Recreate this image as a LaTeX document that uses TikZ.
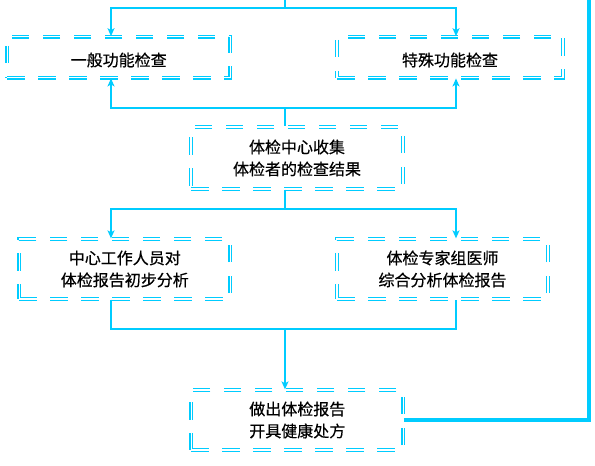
\documentclass[tikz,border=0pt]{standalone}
\usepackage{fontspec}
\newfontfamily\cjk[FakeBold=0.5]{Noto Sans CJK SC}
\usetikzlibrary{arrows.meta}
\definecolor{cy}{RGB}{0,204,255}
\tikzset{
  box/.style={draw=cy, line width=1.3pt, double=white, double distance=1.3pt,
    dash pattern=on 17.5pt off 13.5pt, inner sep=0pt, align=center,
    font=\cjk\fontsize{16}{22}\selectfont, text=black,
    execute at begin node={\rule{0pt}{19pt}}},
  conn/.style={draw=cy, line width=1.2pt},
  arr/.style={conn, -{Stealth[length=8pt,width=7pt,inset=2pt]}},
  thickline/.style={draw=cy, line width=4pt}
}
\begin{document}
\begin{tikzpicture}[x=1pt,y=-1pt]
\useasboundingbox[fill=white] (0,0) rectangle (595,466);
% boxes
\node[box, minimum width=223pt, minimum height=41pt] (b1) at (118.7,57.3) {一般功能检查};
\node[box, minimum width=226pt, minimum height=41pt] (b2) at (450,57.3) {特殊功能检查};
\node[box, minimum width=212pt, minimum height=62pt] (b3) at (297,158) {体检中心收集\\体检者的检查结果};
\node[box, minimum width=211pt, minimum height=60pt] (b4) at (124.8,269) {中心工作人员对\\体检报告初步分析};
\node[box, minimum width=211pt, minimum height=60pt] (b5) at (442.5,269) {体检专家组医师\\综合分析体检报告};
\node[box, minimum width=212pt, minimum height=60pt] (b6) at (297.3,420) {做出体检报告\\开具健康处方};
% coordinates
\coordinate (top) at (285,0);
\coordinate (j1) at (285,8);
\coordinate (c1) at (111,8);
\coordinate (c2) at (456,8);
\coordinate (j2) at (285,108);
\coordinate (c3) at (111,108);
\coordinate (c4) at (456,108);
\coordinate (j3) at (285,209);
\coordinate (c5) at (111,209);
\coordinate (c6) at (456,209);
\coordinate (j4) at (285,329);
\coordinate (c7) at (111,329);
\coordinate (c8) at (456,329);
\coordinate (r) at (589,0);
% connectors
\draw[conn] (top) -- (j1);
\draw[arr] (j1) -- (c1) -- (c1 |- b1.north);
\draw[arr] (j1) -- (c2) -- (c2 |- b2.north);
\draw[conn] (j2) -- (j2 |- b3.north);
\draw[arr] (j2) -- (c3) -- (c3 |- b1.south);
\draw[arr] (j2) -- (c4) -- (c4 |- b2.south);
\draw[conn] (j3 |- b3.south) -- (j3);
\draw[arr] (j3) -- (c5) -- (c5 |- b4.north);
\draw[arr] (j3) -- (c6) -- (c6 |- b5.north);
\draw[conn] (c7 |- b4.south) -- (c7) -- (c8) -- (c8 |- b5.south);
\draw[arr] (j4) -- (j4 |- b6.north);
\draw[thickline] (b6.east) -| (r);
\end{tikzpicture}
\end{document}
